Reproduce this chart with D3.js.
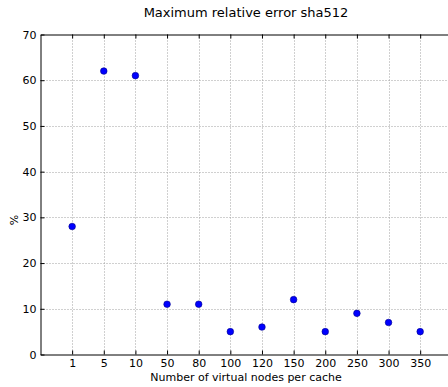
<!DOCTYPE html>
<html><head><meta charset="utf-8">
<script src="https://cdn.jsdelivr.net/npm/d3@7"></script>
<style>body{margin:0;background:#fff}svg{display:block}text{font-family:"DejaVu Sans",sans-serif;fill:#000}</style>
</head><body><svg id="c" width="448" height="387"></svg>
<script>
const categories = ["1","5","10","50","80","100","120","150","200","250","300","350"];
const values = [28,62,61,11,11,5,6,12,5,9,7,5];
const yTicks = [0,10,20,30,40,50,60,70];

const svg = d3.select("#c");
const L = 40.5, T = 34.5, B = 354.5;
const x = d3.scaleLinear().domain([0, categories.length + 1]).range([L, L + 31.64 * 13]);
const y = d3.scaleLinear().domain([0, 70]).range([B, T]);
const R = x.range()[1];

// grid
const g = svg.append("g");
g.selectAll(".gx").data(categories).enter().append("line")
  .attr("x1", (d,i)=>Math.round(x(i+1))+0.5).attr("x2", (d,i)=>Math.round(x(i+1))+0.5)
  .attr("y1", T).attr("y2", B).attr("stroke", "#a0a0a0").attr("stroke-width", 1).attr("stroke-dasharray", "1,2");
g.selectAll(".gy").data(yTicks.slice(1, -1)).enter().append("line")
  .attr("x1", L).attr("x2", R).attr("y1", d=>Math.round(y(d))+0.5).attr("y2", d=>Math.round(y(d))+0.5)
  .attr("stroke", "#a0a0a0").attr("stroke-width", 1).attr("stroke-dasharray", "1,2");

// axes
const xAxis = d3.axisBottom(x).tickValues(categories.map((d,i)=>i+1)).tickFormat((d)=>categories[d-1]).tickSizeInner(-4).tickSizeOuter(0).tickPadding(5);
const gx = svg.append("g").attr("transform", `translate(0,${B})`).call(xAxis);
const xTop = d3.axisTop(x).tickValues(categories.map((d,i)=>i+1)).tickFormat("").tickSizeInner(-4).tickSizeOuter(0);
const gxt = svg.append("g").attr("transform", `translate(0,${T})`).call(xTop);
const yAxis = d3.axisLeft(y).tickValues(yTicks).tickSizeInner(-4).tickSizeOuter(0).tickPadding(4);
const gy = svg.append("g").attr("transform", `translate(${L},0)`).call(yAxis);
[gx, gxt, gy].forEach(a => {
  a.selectAll("path").attr("stroke", "#000").attr("stroke-width", 1);
  a.selectAll("line").attr("stroke", "#000");
  a.selectAll("text").style("font-size", "11px").attr("fill", "#000");
});

// points
svg.selectAll(".pt").data(values).enter().append("circle")
  .attr("cx", (d,i)=>x(i+1)).attr("cy", d=>y(d)).attr("r", 3.3)
  .attr("fill", "#0000ff").attr("stroke", "#00008a").attr("stroke-width", 0.6);

// labels
svg.append("text").attr("x", 246).attr("y", 17).attr("text-anchor", "middle").style("font-size", "13px").text("Maximum relative error sha512");
svg.append("text").attr("x", 246).attr("y", 381).attr("text-anchor", "middle").style("font-size", "11px").text("Number of virtual nodes per cache");
svg.append("text").attr("transform", "translate(18,220) rotate(-90)").attr("text-anchor", "middle").style("font-size", "11px").text("%");
</script></body></html>
